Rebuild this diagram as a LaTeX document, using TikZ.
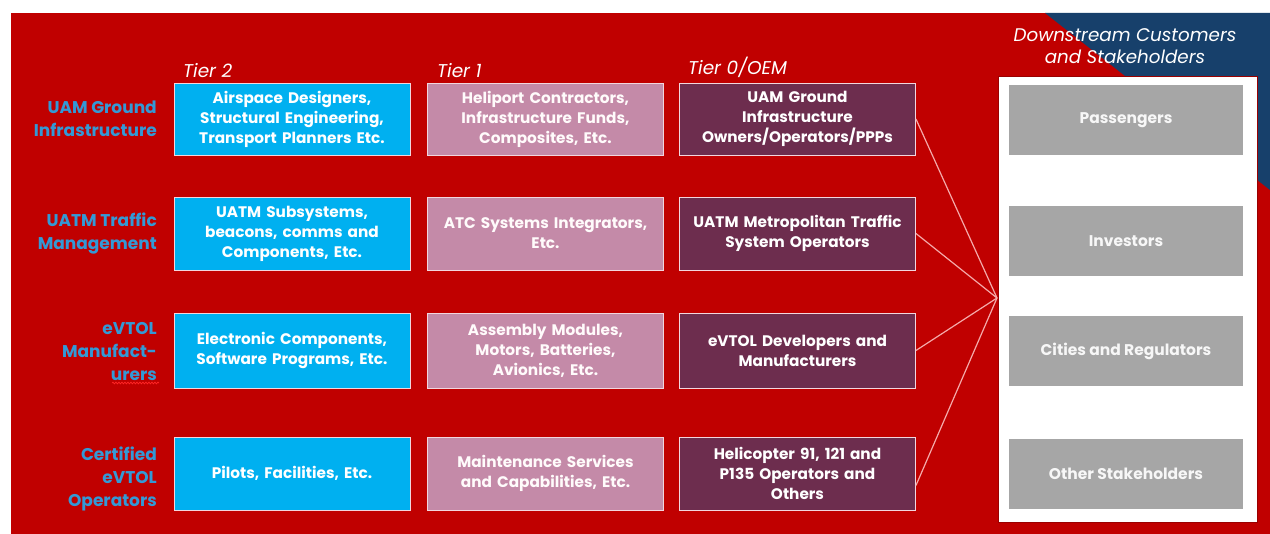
\documentclass[tikz,border=0pt]{standalone}
\usepackage{fontspec}
\setmainfont{Poppins}
\usetikzlibrary{decorations.pathmorphing}
\definecolor{bgred}{HTML}{C00000}
\definecolor{navy}{HTML}{17406B}
\definecolor{tierblue}{HTML}{00B0F0}
\definecolor{tierpink}{HTML}{C48AA8}
\definecolor{tierplum}{HTML}{6D2D4E}
\definecolor{custgrey}{HTML}{A6A6A6}
\definecolor{labelblue}{HTML}{3399D6}
\definecolor{linkpink}{HTML}{F4AAAA}
\definecolor{boxedge}{HTML}{F2D6DE}
\tikzset{
  tierbox/.style={draw=boxedge, line width=0.9pt, minimum width=236pt, minimum height=72pt,
    text width=230pt, align=center, text=white, font=\bfseries\fontsize{15.3}{20}\selectfont, inner sep=0pt},
  t2/.style={tierbox, fill=tierblue},
  t1/.style={tierbox, fill=tierpink, text=white!94!pink},
  t0/.style={tierbox, fill=tierplum},
  custbox/.style={fill=custgrey, minimum width=234pt, minimum height=70pt, inner sep=0pt,
    text=white!94!gray, font=\bfseries\fontsize{15.5}{20}\selectfont},
  rowlabel/.style={anchor=east, align=right, text=labelblue, inner sep=0pt,
    font=\bfseries\fontsize{17}{23}\selectfont},
  tierlabel/.style={anchor=south west, text=white, inner sep=0pt, font=\itshape\fontsize{18.5}{20}\selectfont},
  link/.style={draw=linkpink, line width=1.2pt}
}
\begin{document}
\begin{tikzpicture}[x=1pt,y=-1pt]
\useasboundingbox (0,0) rectangle (1270,534);
\fill[white] (0,0) rectangle (1270,534);
\fill[bgred] (11,13) rectangle (1270,534);
\fill[navy] (1045,13) -- (1270,13) -- (1270,190) -- cycle;
% downstream panel
\node[anchor=center, align=center, text=white, inner sep=0pt, font=\itshape\fontsize{18.3}{22}\selectfont] (dtitle) at (1125,46) {Downstream Customers\\and Stakeholders};
\node[draw=bgred!80!black, line width=0.8pt, fill=white, minimum width=259pt, minimum height=446pt, inner sep=0pt] (panel) at (1127.5,299) {};
\node[custbox] (c1) at (1126,120.5) {Passengers};
\node[custbox] (c2) at (1126,241) {Investors};
\node[custbox] (c3) at (1126,351.5) {Cities and Regulators};
\node[custbox] (c4) at (1126,474) {Other Stakeholders};
% tier headings
\node[tierlabel] (h2) at (183,78) {Tier 2};
\node[tierlabel] (h1) at (437,78) {Tier 1};
\node[tierlabel] (h0) at (688,78) {Tier 0/OEM};
% row labels
\node[rowlabel] (l1) at (157,119) {UAM Ground\\Infrastructure};
\node[rowlabel] (l2) at (157,234) {UATM Traffic\\Management};
\node[rowlabel] (l3) at (157,352) {eVTOL\\Manufact-\\urers};
\node[rowlabel] (l4) at (157,479) {Certified\\eVTOL\\Operators};
\draw[red!85!white, line width=0.7pt, decorate, decoration={snake, amplitude=0.9pt, segment length=3pt}] (112,383) -- (159,383);
% row 1
\node[t2] (r1a) at (292,119) {Airspace Designers,\\Structural Engineering,\\Transport Planners Etc.};
\node[t1] (r1b) at (545.5,119) {Heliport Contractors,\\Infrastructure Funds,\\Composites, Etc.};
\node[t0] (r1c) at (797.5,119) {UAM Ground\\Infrastructure\\Owners/Operators/PPPs};
% row 2
\node[t2, minimum height=73pt] (r2a) at (292,233.5) {UATM Subsystems,\\beacons, comms and\\Components, Etc.};
\node[t1, minimum height=73pt] (r2b) at (545.5,233.5) {ATC Systems Integrators,\\Etc.};
\node[t0, minimum height=73pt] (r2c) at (797.5,233.5) {UATM Metropolitan Traffic\\System Operators};
% row 3
\node[t2, minimum height=75pt] (r3a) at (292,350.5) {Electronic Components,\\Software Programs, Etc.};
\node[t1, minimum height=75pt] (r3b) at (545.5,350.5) {Assembly Modules,\\Motors, Batteries,\\Avionics, Etc.};
\node[t0, minimum height=75pt] (r3c) at (797.5,350.5) {eVTOL Developers and\\Manufacturers};
% row 4
\node[t2, minimum height=73pt] (r4a) at (292,473.5) {Pilots, Facilities, Etc.};
\node[t1, minimum height=73pt] (r4b) at (545.5,473.5) {Maintenance Services\\and Capabilities, Etc.};
\node[t0, minimum height=73pt] (r4c) at (797.5,473.5) {Helicopter 91, 121 and\\P135 Operators and\\Others};
% connectors
\coordinate (hub) at (997,298);
\draw[link] (r1c.east) -- (hub);
\draw[link] (r2c.east) -- (hub);
\draw[link] (r3c.east) -- (hub);
\draw[link] ([yshift=-12pt]r4c.east) -- (hub);
\end{tikzpicture}
\end{document}
